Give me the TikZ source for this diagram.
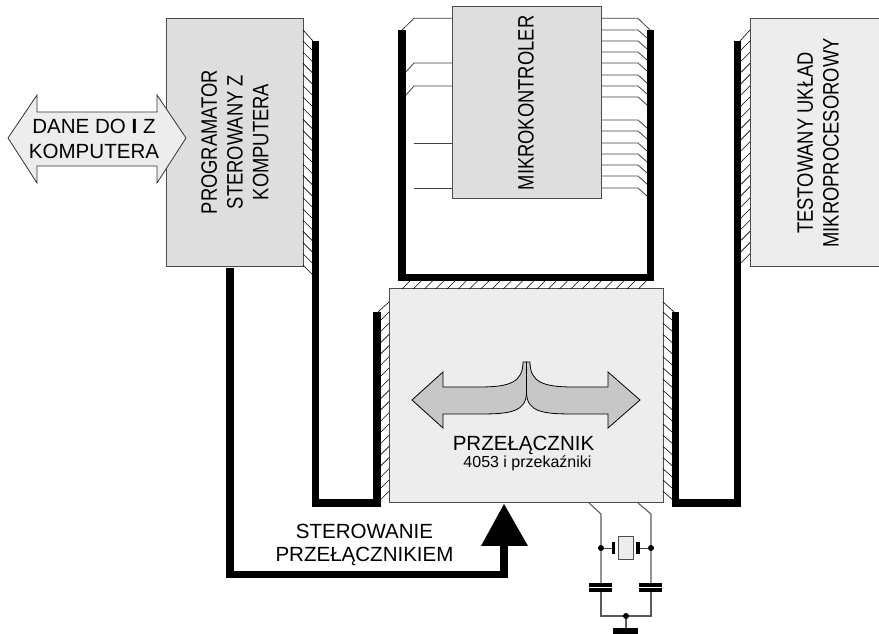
\documentclass[tikz,border=0pt]{standalone}
\usepackage{fontspec}
\setmainfont{Liberation Sans}
\newcommand\cond[1]{\scalebox{.825}[1]{#1}}
\tikzset{
  x=.75pt,y=-.75pt,
  txt/.style={font=\fontsize{15.4}{18.75}\selectfont,align=center,inner sep=0pt},
  vtxt/.style={font=\fontsize{16.7}{19.3}\selectfont,align=center,inner sep=0pt,rotate=90},
  box/.style={draw=black!70,line width=.75pt},
  bus/.style={draw=black,line width=5.6pt,line join=miter,line cap=butt},
  pin/.style={draw=black!75,line width=.6pt},
  hatch/.style={draw=black,line width=.45pt},
  dot/.style={circle,fill=black,inner sep=0pt,minimum size=4.5pt},
  plate/.style={fill=black,draw=none},
  wire/.style={draw=black!65,line width=.8pt},
}
\begin{document}
\begin{tikzpicture}
\useasboundingbox (0,0) rectangle (879,634);
% boxes
\path[box,fill=black!13] (166,19) rectangle (303,267);
\path[box,fill=black!13] (452,7) rectangle (601,199);
\path[box,fill=black!7] (389,289) rectangle (663,503);
\draw[box,fill=black!7] (879,19) -- (750,19) -- (750,267) -- (879,267);
\node[vtxt] (prog) at (235,142) {\cond{PROGRAMATOR}\\\cond{STEROWANY Z}\\\cond{KOMPUTERA}};
\node[vtxt] (mk) at (526,103) {\cond{MIKROKONTROLER}};
\node[vtxt] (test) at (818,143) {\cond{TESTOWANY UKŁAD}\\\cond{MIKROPROCESOROWY}};
% data arrow
\draw[draw=black!80,line width=.6pt,fill=black!7,line join=miter] (8,138) -- (37,95) -- (37,112) -- (157,112) -- (157,95) -- (186,138) -- (157,183) -- (157,166) -- (37,166) -- (37,183) -- cycle;
\node[txt] (dane) at (94,139) {DANE DO \textbf{I} Z\\KOMPUTERA};
% buses
\coordinate (pt) at (315.5,41);
\coordinate (pb) at (315.5,503);
\coordinate (sl) at (377,312);
\coordinate (sr) at (675.5,312);
\coordinate (tb) at (737.5,503);
\coordinate (tt) at (737.5,41);
\draw[bus] (pt) -- (pb) -- (377,503) -- (sl);
\draw[bus] (sr) -- (675.5,503) -- (tb) -- (tt);
\draw[bus] (402,30) -- (402,277.5) -- (650.5,277.5) -- (650.5,30);
% hatching
\draw[hatch] (303,30) -- (313,41);
\foreach \i in {0,...,20} \draw[hatch] (303,{41+\i*11.2}) -- (312,{50+\i*11.2});
\draw[hatch] (750,30) -- (740,41);
\foreach \i in {0,...,19} \draw[hatch] (750,{41+\i*11.2}) -- (741,{50+\i*11.2});
\foreach \i in {0,...,21} \draw[hatch] ({402+\i*11.25},289) -- ({410+\i*11.25},281);
\draw[hatch] (389,302) -- (378,312);
\foreach \i in {0,...,16} \draw[hatch] (389,{312+\i*11.2}) -- (381,{320+\i*11.2});
\draw[hatch] (663,302) -- (674,312);
\foreach \i in {0,...,16} \draw[hatch] (663,{312+\i*11.2}) -- (672,{320+\i*11.2});
% microcontroller pins
\draw[pin] (452,18.3) -- (414,18.3) -- (402,30);
\foreach \y in {63,86} \draw[pin] (452,\y) -- (414,\y) -- (406,{\y+9});
\foreach \y in {143,188} \draw[pin] (452,\y) -- (414,\y);
\draw[pin] (601,18.3) -- (638,18.3) -- (650,30);
\foreach \y in {30,41,52,63,75,86,97,120,131,143,154,165,176,188}
  \draw[pin] (601,\y) -- (638,\y) -- (647,{\y+8});
% switch arrows
\draw[draw=black,line width=.6pt,fill=black!22,line join=miter] (526.5,362) -- (523,362) .. controls (523,382) and (510,387) .. (480,387) -- (443,387) -- (443,372) -- (412,400) -- (443,428) -- (443,414) -- (480,414) .. controls (510,414) and (526.5,412) .. (526.5,392) -- cycle;
\draw[draw=black,line width=.6pt,fill=black!22,line join=miter] (526.5,362) -- (530,362) .. controls (530,382) and (543,387) .. (573,387) -- (608,387) -- (608,372) -- (640,400) -- (608,428) -- (608,414) -- (573,414) .. controls (543,414) and (526.5,412) .. (526.5,392) -- cycle;
\node[txt] (pr) at (523.5,445) {PRZEŁĄCZNIK};
\node[txt,font=\fontsize{12}{14}\selectfont] (sub) at (527.5,463) {4053 i przekaźniki};
% control
\coordinate (ct) at (230,268);
\coordinate (ca) at (504,545);
\draw[bus] (ct) -- (230,574.5) -- (504,574.5) -- (ca);
\fill (504,504) -- (528,546) -- (481,546) -- cycle;
\node[txt,font=\fontsize{15.4}{17.8}\selectfont] (ster) at (364.5,545) {STEROWANIE\\PRZEŁĄCZNIKIEM};
% crystal
\coordinate (a1) at (589,503);
\coordinate (a2) at (638,503);
\coordinate (jl) at (601,548);
\coordinate (jr) at (651,548);
\coordinate (bl) at (601,616);
\coordinate (br) at (651,616);
\draw[wire] (a1) -- (601,514) -- (jl) -- (601,585);
\draw[wire] (a2) -- (651,514) -- (jr) -- (651,585);
\draw[wire] (601,590) -- (bl) -- (br) -- (651,590);
\node[dot] (dl) at (jl) {};
\node[dot] (dr) at (jr) {};
\node[dot] (dg) at (626,616) {};
\draw[pin] (dl) -- (613,548);
\draw[pin] (dr) -- (638,548);
\path[plate] (612,542) rectangle (615,554);
\path[plate] (636,542) rectangle (640,554);
\draw[box,fill=black!7] (618,537) rectangle (633,560);
\path[plate] (589,583) rectangle (612,587);
\path[plate] (589,588) rectangle (612,592);
\path[plate] (639,583) rectangle (662,587);
\path[plate] (639,588) rectangle (662,592);
\draw[wire] (dg) -- (626,628);
\path[plate] (613,628) rectangle (638,634);
\end{tikzpicture}
\end{document}
